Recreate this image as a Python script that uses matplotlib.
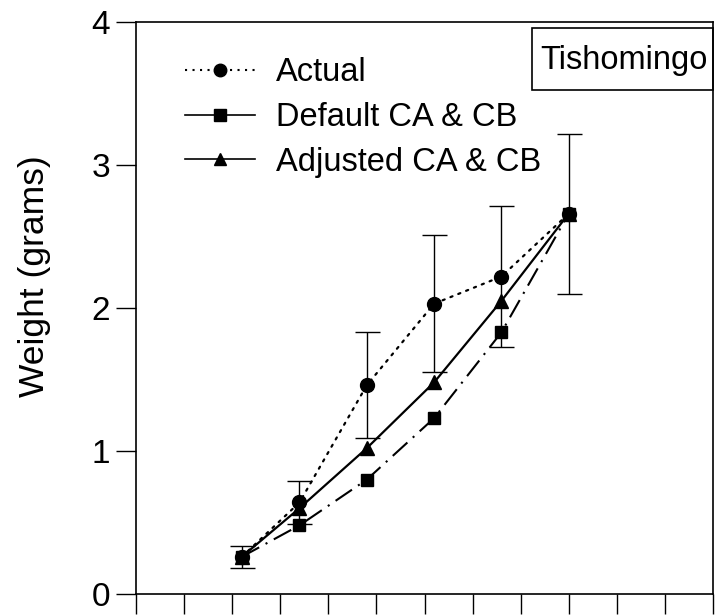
import matplotlib
matplotlib.use("Agg")
import matplotlib.pyplot as plt
from matplotlib.lines import Line2D
from matplotlib.patches import Rectangle

plt.rcParams['font.family'] = ['Liberation Sans', 'DejaVu Sans']

# Data (x in days; ticks every 5 days)
days = [11, 17, 24, 31, 38, 45]
actual = [0.26, 0.64, 1.46, 2.03, 2.22, 2.66]
actual_err = [0.075, 0.15, 0.37, 0.48, 0.49, 0.56]
default_ca_cb = [0.26, 0.48, 0.80, 1.23, 1.83, 2.66]
adjusted_ca_cb = [0.26, 0.60, 1.02, 1.48, 2.05, 2.66]
x_ticks = list(range(0, 61, 5))
y_ticks = [0, 1, 2, 3, 4]
site = "Tishomingo"

fig = plt.figure(figsize=(7.15, 6.15), dpi=100)
ax = fig.add_axes([136/715, 21/615, (713-136)/715, (594-22)/615])

# Actual with error bars
ax.errorbar(days, actual, yerr=actual_err, fmt='none', ecolor='black',
            elinewidth=1.0, capsize=9, capthick=1.0, zorder=2)
ax.plot(days, actual, color='black', linestyle=(0, (1, 2.8)), lw=1.6,
        dash_capstyle='round', marker='o', markersize=10, zorder=3)
# Adjusted CA & CB
ax.plot(days, adjusted_ca_cb, color='black', linestyle='-', lw=1.6,
        marker='^', markersize=10, zorder=4)
# Default CA & CB
ax.plot(days, default_ca_cb, color='black', linestyle=(0, (9.5, 3.5, 1, 3.5)),
        lw=1.5, marker='s', markersize=8.5, zorder=5)

ax.set_xlim(0, 60)
ax.set_ylim(0, 4)
ax.set_xticks(x_ticks)
ax.set_xticklabels([])
ax.set_yticks(y_ticks)
ax.set_yticklabels([str(v) for v in y_ticks])
ax.tick_params(axis='both', direction='out', length=14.5, width=1.0,
               labelsize=24, color='black')
ax.tick_params(axis='y', pad=4)
for s in ax.spines.values():
    s.set_linewidth(1.2)

ax.set_ylabel("Weight (grams)", fontsize=25.5)
ax.yaxis.set_label_coords(-0.147, 0.555)

# Legend (legend line for Default drawn solid, as in the reference)
handles = [
    Line2D([], [], color='black', linestyle=(0, (1, 2.6)), lw=1.5,
           marker='o', markersize=9),
    Line2D([], [], color='black', linestyle='-', lw=1.2,
           marker='s', markersize=8),
    Line2D([], [], color='black', linestyle='-', lw=1.2,
           marker='^', markersize=9),
]
labels = ["Actual", "Default CA & CB", "Adjusted CA & CB"]
ax.legend(handles, labels, loc='upper left', bbox_to_anchor=(0.045, 0.978),
          frameon=False, fontsize=23.5, handlelength=2.15, handletextpad=0.64,
          labelspacing=0.42, borderpad=0.2)

# Site label box
ax.add_patch(Rectangle((0.686, 0.881), 0.314, 0.109, transform=ax.transAxes,
                       fill=False, edgecolor='black', lw=1.2, clip_on=False))
ax.text(0.845, 0.933, site, transform=ax.transAxes, ha='center', va='center',
        fontsize=23.5)

fig.savefig("out.png", dpi=100)
